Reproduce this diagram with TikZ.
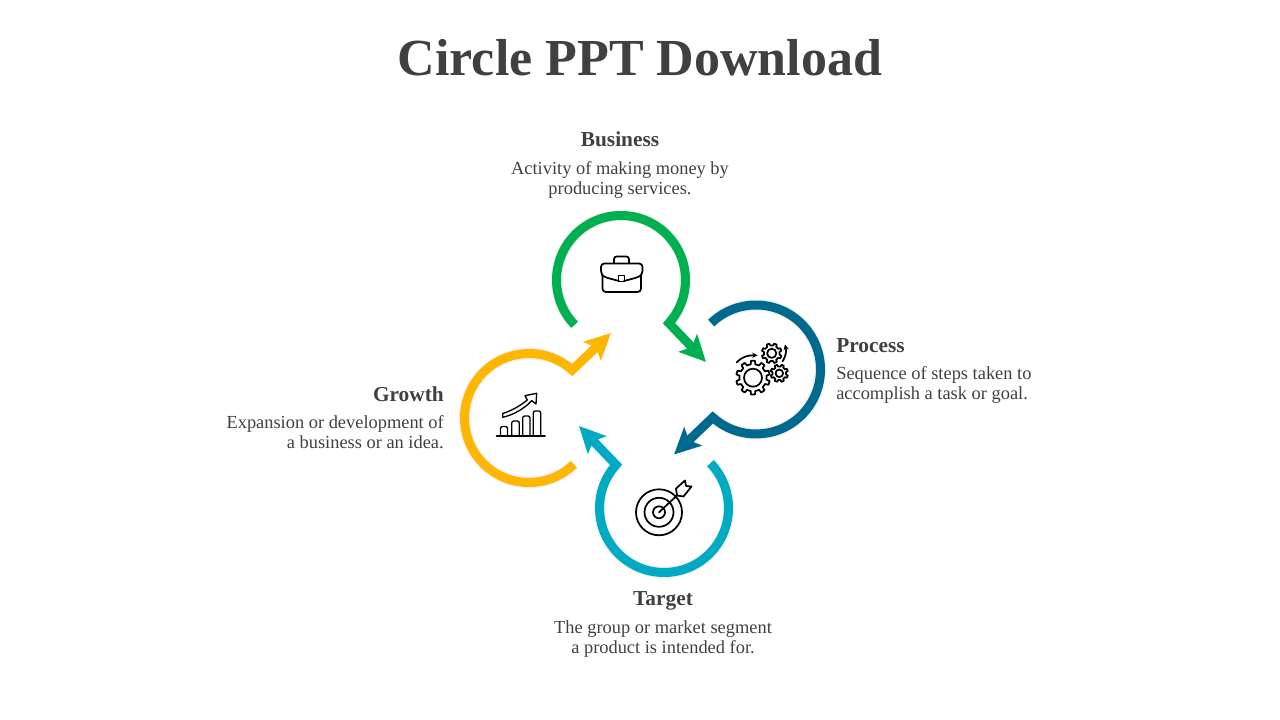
\documentclass[tikz,border=0pt]{standalone}
\usepackage{fontspec}
\setmainfont{Liberation Serif}
\usetikzlibrary{arrows.meta}

\definecolor{inktext}{HTML}{404040}
\definecolor{ringgreen}{HTML}{00B050}
\definecolor{ringblue}{HTML}{006A8E}
\definecolor{ringcyan}{HTML}{00AAC3}
\definecolor{ringamber}{HTML}{FFB600}

\tikzset{
  titletext/.style={font=\fontsize{39}{44}\selectfont\bfseries,text=inktext,inner sep=0pt},
  headtext/.style={font=\fontsize{16}{18}\selectfont\bfseries,text=inktext,inner sep=0pt},
  bodytext/.style={font=\fontsize{13.8}{15}\selectfont,text=inktext,inner sep=0pt},
  iconline/.style={black,line width=1.3pt,line join=round,line cap=round},
  iconthin/.style={black,line width=1pt,line join=round,line cap=round}
}

% one ring with its arrow: centre x, centre y, rotation, colour
\newcommand{\ringarrow}[4]{
  \begin{scope}[shift={(#1,#2)},rotate=#3]
    \draw[black,opacity=0.05,line width=8.6pt] (224:64.5) arc[start angle=224,end angle=-42,radius=64.5];
    \draw[#4,line width=6.75pt,line join=miter,
      -{Stealth[length=19.5pt,width=18.8pt,inset=4pt]}]
      (224:64.5) arc[start angle=224,end angle=-42,radius=64.5] -- (85,-82);
  \end{scope}
}

% one gear: centre x, centre y, outer radius, root radius, hole radius, teeth
\newcommand{\gearicon}[6]{
  \pgfmathsetmacro{\gearstep}{360/#6}
  \begin{scope}[shift={(#1,#2)}]
    \draw[iconline] (0:#4)
      \foreach \k in {1,...,#6} {
        -- ({(\k-1+0.22)*\gearstep}:#4) -- ({(\k-1+0.32)*\gearstep}:#3)
        -- ({(\k-1+0.68)*\gearstep}:#3) -- ({(\k-1+0.78)*\gearstep}:#4)
        -- ({\k*\gearstep}:#4)
      } -- cycle;
    \draw[iconline] (0,0) circle (#5);
  \end{scope}
}

\begin{document}
\begin{tikzpicture}[x=0.75pt,y=0.75pt,>=Stealth]
  \useasboundingbox (0,0) rectangle (1280,720);

  % title
  \node[titletext] (title) at (640,662) {Circle PPT Download};

  % rings
  \ringarrow{621}{440}{0}{ringgreen}
  \ringarrow{756}{350.5}{-90}{ringblue}
  \ringarrow{664}{212}{-180}{ringcyan}
  \ringarrow{529}{302}{-270}{ringamber}

  % business text
  \node[headtext] (businesshead) at (620,581) {Business};
  \node[bodytext,align=center,anchor=north] (businessbody) at (620,559)
    {Activity of making money by\\producing services.};

  % process text
  \node[headtext,anchor=west] (processhead) at (836,374) {Process};
  \node[bodytext,align=left,anchor=north west] (processbody) at (836,354)
    {Sequence of steps taken to\\accomplish a task or goal.};

  % target text
  \node[headtext] (targethead) at (663,119) {Target};
  \node[bodytext,align=center,anchor=north] (targetbody) at (663,100)
    {The group or market segment\\a product is intended for.};

  % growth text
  \node[headtext,anchor=east] (growthhead) at (444,326) {Growth};
  \node[bodytext,align=right,anchor=north east] (growthbody) at (444,305)
    {Expansion or development of\\a business or an idea.};

  % icons, typed in image pixels
  \begin{scope}[shift={(0,720)},yscale=-1]
    % briefcase
    \draw[iconline,rounded corners=2.5pt] (602.5,275) -- (602.5,292) -- (641,292) -- (641,275);
    \draw[iconline,rounded corners=2.5pt] (619,281) -- (604,277) -- (601,274) -- (601,263.5)
      -- (642.5,263.5) -- (642.5,274) -- (639,277) -- (624,281);
    \draw[iconline] (618.5,275.5) rectangle (624.5,281.5);
    \draw[iconline,rounded corners=2pt] (614,263) -- (614,256.5) -- (629,256.5) -- (629,263);

    % gears
    \gearicon{753}{377.7}{17}{13.5}{9}{10}
    \gearicon{779.3}{373.3}{8.8}{6.8}{3.8}{8}
    \gearicon{771.7}{353.3}{10}{7.8}{4.6}{8}
    \draw[iconline,-{Stealth[length=4pt,width=4pt]}] (736.7,362.5) .. controls (742,356.5) and (749,355) .. (757.5,355.5);
    \draw[iconline,-{Stealth[length=4pt,width=4pt]}] (782.5,361.5) .. controls (786,356) and (786.5,351) .. (785,344.5);

    % target
    \draw[iconline] (659,512.3) circle (23);
    \draw[iconline] (659,512.3) circle (14.5);
    \draw[iconline] (659,512.3) circle (6);
    \draw[iconline] (659,512.3) -- (677,495.5);
    \draw[iconline] (677,495.5) -- (676,488.5) -- (685,480.5) -- (686,486) -- (691.5,486.5)
      -- (683.5,496.5) -- cycle;

    % chart
    \draw[iconline] (496.5,436) -- (545,436);
    \draw[iconthin,rounded corners=1.5pt] (500.5,436) -- (500.5,426.5) -- (507.5,426.5) -- (507.5,436);
    \draw[iconthin,rounded corners=1.5pt] (511.7,436) -- (511.7,421) -- (519.3,421) -- (519.3,436);
    \draw[iconthin,rounded corners=1.5pt] (522.7,436) -- (522.7,416) -- (530,416) -- (530,436);
    \draw[iconthin,rounded corners=1.5pt] (533.3,436) -- (533.3,411) -- (540.7,411) -- (540.7,436);
    \draw[iconthin] (502.7,413.5) .. controls (511,411) and (520,406) .. (527.3,400)
      -- (525,395.7) -- (536.7,393.3) -- (536,404) -- (531.7,400.7)
      .. controls (524,409) and (513,415) .. (502.7,417.3) -- cycle;
  \end{scope}
\end{tikzpicture}
\end{document}
